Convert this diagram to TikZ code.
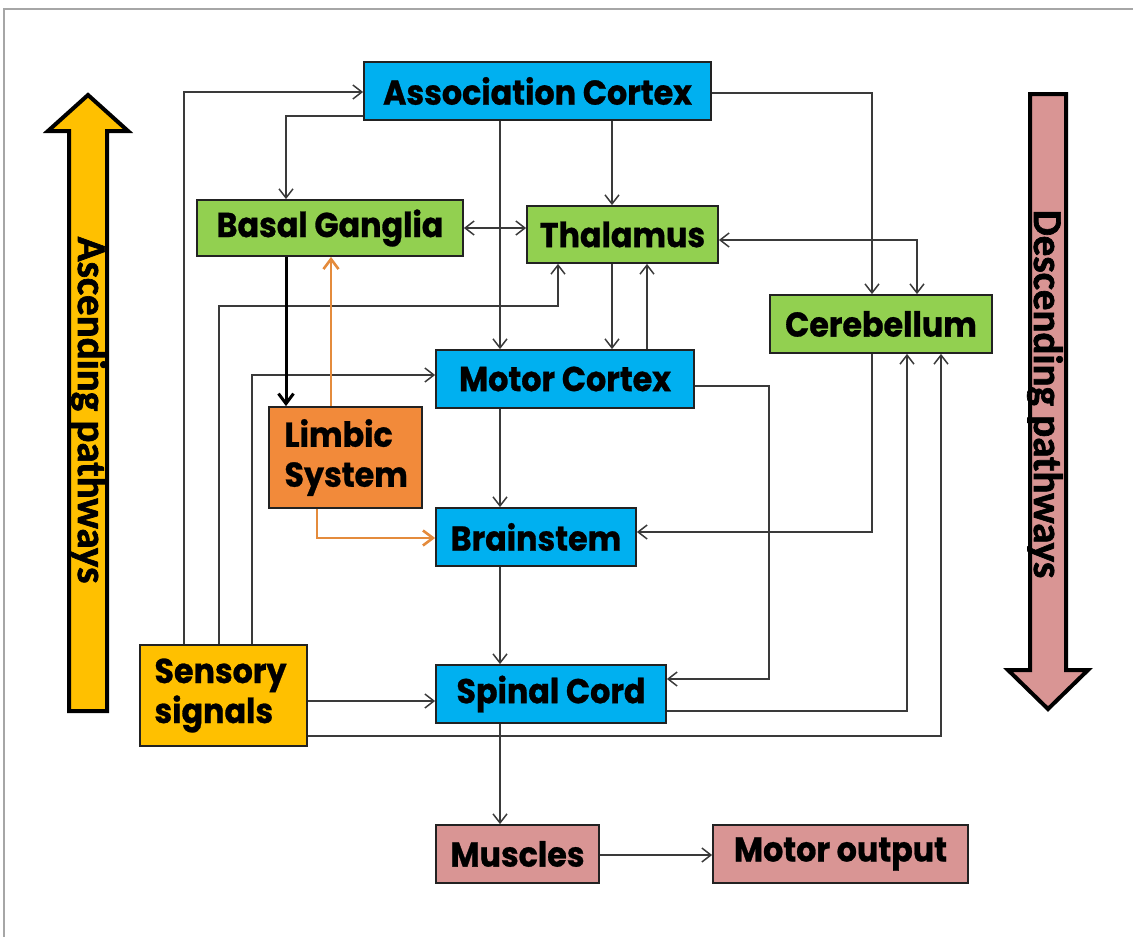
\documentclass[tikz,border=0pt]{standalone}
\usepackage{fontspec}
\usetikzlibrary{arrows.meta}
\newfontfamily\boxfont{Poppins}[FakeStretch=0.92,FakeBold=0.8]
\newfontfamily\bannerfont{Carlito}[FakeBold=1.6]
\definecolor{cblue}{HTML}{00B0F0}
\definecolor{cgreen}{HTML}{92D050}
\definecolor{corange}{HTML}{F28A3A}
\definecolor{cyellow}{HTML}{FFC000}
\definecolor{cpink}{HTML}{D99594}
\definecolor{orangeline}{HTML}{E48B3C}
\definecolor{boxline}{HTML}{222222}
\definecolor{lineg}{HTML}{3A3A3A}
\definecolor{framegray}{HTML}{A6A6A6}
\begin{document}
\begin{tikzpicture}[x=1pt,y=-1pt,
  box/.style={draw=boxline, line width=1.8pt, inner sep=0pt,
    font=\boxfont\bfseries\fontsize{34.5}{40}\selectfont},
  tip/.style={-{Straight Barb[length=9pt,width=14pt]}},
  conn/.style={draw=lineg, line width=1.5pt, tip},
  both/.style={draw=lineg, line width=1.5pt, {Straight Barb[length=9pt,width=14pt]}-{Straight Barb[length=9pt,width=14pt]}},
  thick conn/.style={draw=black, line width=3pt, -{Straight Barb[length=10pt,width=15pt]}},
  orange conn/.style={draw=orangeline, line width=2.6pt, -{Straight Barb[length=10pt,width=15pt]}},
  banner/.style={draw=black, line width=4pt, line join=miter},
  bannertext/.style={rotate=-90, anchor=base, inner sep=0pt,
    font=\bannerfont\bfseries\fontsize{41}{41}\selectfont}]
\useasboundingbox (0,0) rectangle (1133,937);
% page frame
\draw[framegray, line width=2pt] (4,937) -- (4,9) -- (1133,9);

% side banners
\draw[banner, fill=cyellow] (69,711) -- (69,131) -- (48,131) -- (88,95) -- (128,131) -- (107,131) -- (107,711) -- cycle;
\node[bannertext] (asc) at (78,410) {Ascending pathways};
\draw[banner, fill=cpink] (1030,94) -- (1066,94) -- (1066,670) -- (1088,670) -- (1048,709) -- (1008,670) -- (1030,670) -- cycle;
\node[bannertext] (desc) at (1034,394) {Descending pathways};

% boxes
\node[box, fill=cblue, minimum width=347pt, minimum height=58pt] (assoc) at (537.5,91) {Association Cortex};
\node[box, fill=cgreen, minimum width=266pt, minimum height=56pt] (basal) at (330,228) {Basal Ganglia};
\node[box, fill=cgreen, minimum width=191pt, minimum height=57pt] (thal) at (622.5,234.5) {Thalamus};
\node[box, fill=cgreen, minimum width=222pt, minimum height=58pt] (cereb) at (881,324) {Cerebellum};
\node[box, fill=cblue, minimum width=258pt, minimum height=58pt] (motor) at (565,379) {Motor Cortex};
\node[box, fill=corange, minimum width=153pt, minimum height=101pt, text width=122pt, align=left] (limbic) at (345.5,457.5) {Limbic\\System};
\node[box, fill=cblue, minimum width=200pt, minimum height=58pt] (brain) at (536,537) {Brainstem};
\node[box, fill=cblue, minimum width=230pt, minimum height=58pt] (spinal) at (551,694) {Spinal Cord};
\node[box, fill=cyellow, minimum width=167pt, minimum height=101pt, text width=138pt, align=left] (sens) at (223.5,695.5) {Sensory\\signals};
\node[box, fill=cpink, minimum width=163pt, minimum height=58pt] (musc) at (517.5,854) {Muscles};
\node[box, fill=cpink, minimum width=255pt, minimum height=58pt] (out) at (840.5,854) {Motor output};

% routing points
\coordinate (r1) at (184,92);
\coordinate (r2) at (219,306);
\coordinate (r2b) at (558,306);
\coordinate (r3) at (252,375);
\coordinate (r4) at (0,701);
\coordinate (r5) at (941,736);
\coordinate (r6) at (907,711);
\coordinate (r7) at (872,532);
\coordinate (r8) at (769,386);
\coordinate (r8b) at (769,679);
\coordinate (r9) at (872,93);
\coordinate (r10) at (917,240);
\coordinate (cA) at (500,0);
\coordinate (cB) at (612,0);
\coordinate (cC) at (647,0);
\coordinate (r15) at (286,116);
\coordinate (r16) at (0,228);
\coordinate (cL) at (331,0);
\coordinate (r19) at (317,538);
\coordinate (r21) at (0,855);

% sensory inputs
\draw[conn] (sens.north -| r1) |- (assoc.west |- r1);
\draw[conn] (sens.north -| r2) |- (r2b) -- (thal.south -| r2b);
\draw[conn] (sens.north -| r3) |- (motor.west |- r3);
\draw[conn] (sens.east |- r4) -- (spinal.west |- r4);
\draw[conn] (sens.east |- r5) -| (cereb.south -| r5);

% cerebellar loops
\draw[conn] (spinal.east |- r6) -| (cereb.south -| r6);
\draw[conn] (cereb.south -| r7) |- (brain.east |- r7);
\draw[conn] (assoc.east |- r9) -| (cereb.north -| r9);
\draw[both] (thal.east |- r10) -| (cereb.north -| r10);

% cortical outputs
\draw[conn] (motor.east |- r8) -- (r8) -- (r8b) -- (spinal.east |- r8b);
\draw[conn] (assoc.south -| cA) -- (motor.north -| cA);
\draw[conn] (assoc.south -| cB) -- (thal.north -| cB);
\draw[conn] (thal.south -| cB) -- (motor.north -| cB);
\draw[conn] (motor.north -| cC) -- (thal.south -| cC);
\draw[conn] (assoc.west |- r15) -| (basal.north -| r15);
\draw[both] (basal.east |- r16) -- (thal.west |- r16);

% limbic links
\draw[thick conn] (basal.south -| r15) -- (limbic.north -| r15);
\draw[orange conn] (limbic.north -| cL) -- (basal.south -| cL);
\draw[orange conn] (limbic.south -| r19) |- (brain.west |- r19);

% descending chain
\draw[conn] (motor.south -| cA) -- (brain.north -| cA);
\draw[conn] (brain.south -| cA) -- (spinal.north -| cA);
\draw[conn] (spinal.south -| cA) -- (musc.north -| cA);
\draw[conn] (musc.east |- r21) -- (out.west |- r21);
\end{tikzpicture}
\end{document}
